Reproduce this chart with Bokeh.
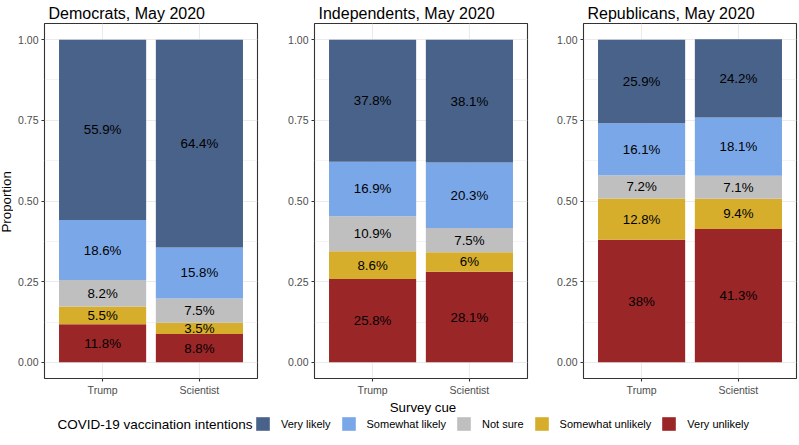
import numpy as np
from bokeh.plotting import figure
from bokeh.layouts import row, column
from bokeh.models import (ColumnDataSource, FactorRange, Range1d, FixedTicker,
                          NumeralTickFormatter, Legend, LegendItem, Label)
from bokeh.core.properties import value
from bokeh.embed import file_html
from bokeh.resources import INLINE

# ---------------- data ----------------
cues = ["Trump", "Scientist"]
# stacking order bottom -> top
levels = ["Very unlikely", "Somewhat unlikely", "Not sure", "Somewhat likely", "Very likely"]
legend_order = ["Very likely", "Somewhat likely", "Not sure", "Somewhat unlikely", "Very unlikely"]
level_colors = ["#9B2628", "#D6AE2C", "#BFBFBF", "#7AA7E8", "#48628A"]

panel_titles = ["Democrats, May 2020", "Independents, May 2020", "Republicans, May 2020"]

# percentages, [Trump, Scientist]
dem_very_unlikely = [11.8, 8.8]
dem_somewhat_unlikely = [5.5, 3.5]
dem_not_sure = [8.2, 7.5]
dem_somewhat_likely = [18.6, 15.8]
dem_very_likely = [55.9, 64.4]

ind_very_unlikely = [25.8, 28.1]
ind_somewhat_unlikely = [8.6, 6.0]
ind_not_sure = [10.9, 7.5]
ind_somewhat_likely = [16.9, 20.3]
ind_very_likely = [37.8, 38.1]

rep_very_unlikely = [38.0, 41.3]
rep_somewhat_unlikely = [12.8, 9.4]
rep_not_sure = [7.2, 7.1]
rep_somewhat_likely = [16.1, 18.1]
rep_very_likely = [25.9, 24.2]

y_ticks = [0.0, 0.25, 0.5, 0.75, 1.0]
y_minor = [0.125, 0.375, 0.625, 0.875]

panels = [
    [dem_very_unlikely, dem_somewhat_unlikely, dem_not_sure, dem_somewhat_likely, dem_very_likely],
    [ind_very_unlikely, ind_somewhat_unlikely, ind_not_sure, ind_somewhat_likely, ind_very_likely],
    [rep_very_unlikely, rep_somewhat_unlikely, rep_not_sure, rep_somewhat_likely, rep_very_likely],
]

FONT = "Liberation Sans"
FRAME_W = 213
FRAME_H = 355
TOP_B = 23
BOT_B = 21
PANEL_H = TOP_B + FRAME_H + BOT_B
LEFT_W = 13
BORDERS = [(31, 26), (31, 24), (32, 2)]


def make_panel(i):
    title = panel_titles[i]
    vals = np.array(panels[i], dtype=float) / 100.0  # shape (levels, cues)
    tops = np.cumsum(vals, axis=0)
    bottoms = tops - vals
    bl, br = BORDERS[i]
    p = figure(x_range=FactorRange(*cues, range_padding=0.1),
               y_range=Range1d(-0.05, 1.05),
               frame_width=FRAME_W, frame_height=FRAME_H,
               min_border_left=bl, min_border_right=br,
               min_border_top=TOP_B, min_border_bottom=BOT_B,
               output_backend="svg", toolbar_location=None)
    p.title.text = title
    p.title.text_font = FONT
    p.title.text_font_size = "16px"
    p.title.text_font_style = "normal"
    p.title.text_color = "black"
    p.title.align = "left"
    p.title.standoff = 3
    p.title.offset = 4

    p.outline_line_color = "#333333"
    p.outline_line_width = 1.1
    p.background_fill_color = "white"
    p.border_fill_color = "white"

    ticker = FixedTicker(ticks=y_ticks, minor_ticks=y_minor)
    p.yaxis.ticker = ticker
    p.ygrid.ticker = ticker
    p.yaxis.formatter = NumeralTickFormatter(format="0.00")
    p.xgrid.grid_line_color = "#EBEBEB"
    p.xgrid.grid_line_width = 1.1
    p.ygrid.grid_line_color = "#EBEBEB"
    p.ygrid.grid_line_width = 1.1
    p.ygrid.minor_grid_line_color = "#EBEBEB"
    p.ygrid.minor_grid_line_width = 0.55

    for ax in (p.xaxis[0], p.yaxis[0]):
        ax.axis_line_color = None
        ax.major_tick_line_color = "#333333"
        ax.major_tick_line_width = 1.1
        ax.major_tick_out = 3
        ax.major_tick_in = 0
        ax.minor_tick_line_color = None
        ax.major_label_text_font = FONT
        ax.major_label_text_font_size = "10.5px"
        ax.major_label_text_color = "#4D4D4D"
    p.yaxis.major_label_standoff = 2
    p.xaxis.major_label_standoff = 2

    for k, lvl in enumerate(levels):
        src = ColumnDataSource(dict(cue=cues, top=tops[k], bottom=bottoms[k]))
        p.vbar(x="cue", top="top", bottom="bottom", width=0.9, source=src,
               fill_color=level_colors[k], line_color=None)

    mids = (tops + bottoms) / 2.0
    lab_x, lab_y, lab_t = [], [], []
    for k in range(len(levels)):
        for j, c in enumerate(cues):
            lab_x.append(c)
            lab_y.append(mids[k, j])
            lab_t.append(f"{panels[i][k][j]:g}%")
    tsrc = ColumnDataSource(dict(x=lab_x, y=lab_y, t=lab_t))
    p.text(x="x", y="y", text="t", source=tsrc, text_align="center",
           text_baseline="middle", text_font=value(FONT),
           text_font_size="13.3px", text_color="black")
    return p


figs = [make_panel(i) for i in range(3)]

# narrow strip holding the y-axis title
lf = figure(width=LEFT_W, height=PANEL_H, x_range=Range1d(0, LEFT_W), y_range=Range1d(0, PANEL_H),
            x_axis_type=None, y_axis_type=None, min_border=0,
            output_backend="svg", toolbar_location=None)
lf.grid.visible = False
lf.outline_line_color = None
lf.add_layout(Label(x=5.6, y=PANEL_H - (TOP_B + FRAME_H / 2.0), text="Proportion", angle=np.pi / 2,
                    text_align="center", text_baseline="middle", text_font=FONT,
                    text_font_size="13.3px", text_color="black"))

w1 = BORDERS[0][0] + FRAME_W + BORDERS[0][1]
w2 = BORDERS[1][0] + FRAME_W + BORDERS[1][1]
w3 = BORDERS[2][0] + FRAME_W + BORDERS[2][1]
TOTAL = LEFT_W + w1 + w2 + w3
BOTTOM_H = 45

b = figure(width=TOTAL, height=BOTTOM_H, x_range=Range1d(0, TOTAL), y_range=Range1d(0, BOTTOM_H),
           x_axis_type=None, y_axis_type=None, min_border=0,
           output_backend="svg", toolbar_location=None)
b.grid.visible = False
b.outline_line_color = None

panel2_center = LEFT_W + w1 + BORDERS[1][0] + FRAME_W / 2.0
b.add_layout(Label(x=panel2_center + 2, y=BOTTOM_H - 8, text="Survey cue", text_align="center",
                   text_baseline="middle", text_font=FONT, text_font_size="13.3px",
                   text_color="black"))
b.add_layout(Label(x=57, y=20.5, text="COVID-19 vaccination intentions", text_align="left",
                   text_baseline="middle", text_font=FONT, text_font_size="13.5px",
                   text_color="black"))

items = []
for lvl in legend_order:
    c = level_colors[levels.index(lvl)]
    # off-screen dummy bar; only its legend key is visible
    r = b.vbar(x=[-1000], top=[-1000], bottom=[-1001], width=1, fill_color=c, line_color=None)
    items.append(LegendItem(label=lvl, renderers=[r]))
legend = Legend(items=items, orientation="horizontal", location=(254, 12),
                glyph_width=17, glyph_height=17, label_standoff=10, spacing=9,
                padding=0, margin=0, border_line_color=None, background_fill_alpha=0,
                label_text_font=FONT, label_text_font_size="11px", label_height=17,
                label_text_color="black")
b.add_layout(legend)

layout = column(row(lf, *figs), b)
open("out.html", "w").write(file_html(layout, INLINE))
